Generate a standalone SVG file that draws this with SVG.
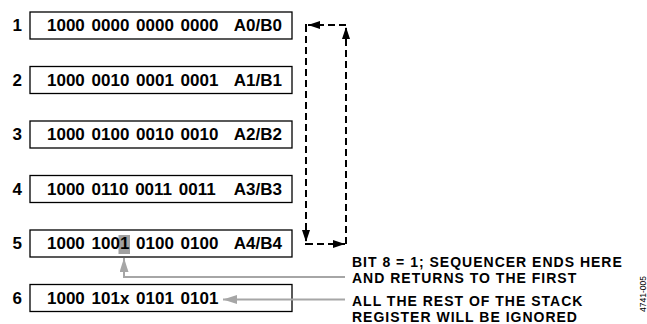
<svg xmlns="http://www.w3.org/2000/svg" width="647" height="324" viewBox="0 0 647 324">
<style>
.box{fill:#fff;stroke:#000;stroke-width:1.3}
.t{font-family:"Liberation Sans",Arial,sans-serif;font-weight:bold;font-size:17px;word-spacing:2px;fill:#000}
.n{font-family:"Liberation Sans",Arial,sans-serif;font-weight:bold;font-size:17px;fill:#000;text-anchor:end}
.a{font-family:"Liberation Sans",Arial,sans-serif;font-weight:bold;font-size:14px;letter-spacing:1px;fill:#000}
.dash{fill:none;stroke:#000;stroke-width:2;stroke-dasharray:7 4}
.grey{fill:none;stroke:#a6a6a6;stroke-width:2}
.hl{fill:#a0a0a0}
</style>
<defs>
<marker id="ah" markerUnits="userSpaceOnUse" markerWidth="14" markerHeight="10" refX="12" refY="4" orient="auto">
<path d="M0,0 L12,4 L0,8 Z" fill="#000"/>
</marker>
<marker id="gh" markerUnits="userSpaceOnUse" markerWidth="16" markerHeight="10" refX="14" refY="4.5" orient="auto">
<path d="M0,0 L14,4.5 L0,9 Z" fill="#a6a6a6"/>
</marker>
</defs>
<g id="row1">
<text class="n" x="22" y="31">1</text>
<rect class="box" x="30" y="12" width="262" height="27"/>
<text class="t" x="47" y="31">1000 0000 0000 0000</text>
<text class="n" x="282" y="31">A0/B0</text>
</g>
<g id="row2">
<text class="n" x="22" y="85.5">2</text>
<rect class="box" x="30" y="66.5" width="262" height="27"/>
<text class="t" x="47" y="85.5">1000 0010 0001 0001</text>
<text class="n" x="282" y="85.5">A1/B1</text>
</g>
<g id="row3">
<text class="n" x="22" y="140">3</text>
<rect class="box" x="30" y="121" width="262" height="27"/>
<text class="t" x="47" y="140">1000 0100 0010 0010</text>
<text class="n" x="282" y="140">A2/B2</text>
</g>
<g id="row4">
<text class="n" x="22" y="194.5">4</text>
<rect class="box" x="30" y="175.5" width="262" height="27"/>
<text class="t" x="47" y="194.5">1000 0110 0011 0011</text>
<text class="n" x="282" y="194.5">A3/B3</text>
</g>
<g id="row5">
<text class="n" x="22" y="249">5</text>
<rect class="box" x="30" y="230" width="262" height="27"/>
<rect class="hl" x="118.5" y="235" width="11.5" height="19"/>
<text class="t" x="47" y="249">1000 1001 0100 0100</text>
<text class="n" x="282" y="249">A4/B4</text>
</g>
<g id="row6">
<text class="n" x="22" y="303.5">6</text>
<rect class="box" x="30" y="284.5" width="262" height="27"/>
<text class="t" x="47" y="303.5">1000 101x 0101 0101</text>
</g>
<g id="connectors">
<path class="dash" d="M346,25 H308" marker-end="url(#ah)"/>
<path class="dash" d="M306,25 V242" marker-end="url(#ah)"/>
<path class="dash" d="M306,244 H345" marker-end="url(#ah)"/>
<path class="dash" d="M346,244 V27" marker-end="url(#ah)"/>
<rect x="305" y="24" width="2" height="2" fill="#000"/>
<rect x="305" y="243" width="2" height="2" fill="#000"/>
<path class="grey" d="M345,277 H124 V258" marker-end="url(#gh)"/>
<path class="grey" d="M345,299.5 H223" marker-end="url(#gh)"/>
</g>
<g id="annotations">
<text class="a" x="352" y="266.5">BIT 8 = 1; SEQUENCER ENDS HERE</text>
<text class="a" x="352" y="282.5">AND RETURNS TO THE FIRST</text>
<text class="a" x="352" y="306">ALL THE REST OF THE STACK</text>
<text class="a" x="352" y="322">REGISTER WILL BE IGNORED</text>
</g>
<text x="0" y="0" transform="translate(646,312) rotate(-90)" font-family="Liberation Sans,Arial,sans-serif" font-size="8.5" fill="#000">4741-005</text>
</svg>
